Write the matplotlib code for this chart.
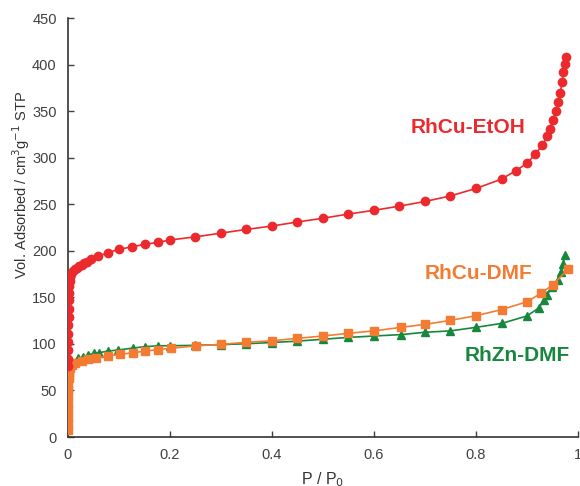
import matplotlib
matplotlib.use('Agg')
import matplotlib.pyplot as plt

plt.rcParams['font.family'] = ['Liberation Sans', 'DejaVu Sans']

# ---RhCu-EtOH---
etoh_p = [0.0002, 0.0004, 0.0006, 0.0008, 0.001, 0.0012, 0.0014, 0.0016, 0.002, 0.0025,
          0.003, 0.004, 0.005, 0.007, 0.01, 0.014, 0.018, 0.022, 0.027, 0.032, 0.037,
          0.046, 0.059, 0.078, 0.101, 0.126, 0.151, 0.176, 0.2, 0.25, 0.3, 0.35, 0.4,
          0.45, 0.5, 0.55, 0.6, 0.65, 0.7, 0.75, 0.8, 0.85, 0.878, 0.9, 0.916, 0.93,
          0.94, 0.945, 0.95, 0.957, 0.961, 0.965, 0.969, 0.971, 0.975, 0.976]
etoh_v = [76, 84, 93, 102, 111, 120, 129, 138, 147, 155,
          162, 168, 172, 175, 178, 180.5, 182, 183.5, 185, 186.5, 188,
          191, 194, 198, 201.6, 204.4, 207, 209, 211.6, 215, 219, 223, 226.6,
          231, 235, 239.5, 243.5, 248, 253, 259, 267, 277, 286, 294, 303.6, 313.6,
          323, 331, 340, 350, 360, 370, 381, 392, 401, 408]

# ---RhCu-DMF---
cudmf_p = [0.0001, 0.0002, 0.0003, 0.0004, 0.0005, 0.0006, 0.0008, 0.001, 0.0015, 0.002,
           0.003, 0.005, 0.008, 0.014, 0.027, 0.04, 0.056, 0.079, 0.102, 0.128, 0.152,
           0.177, 0.202, 0.252, 0.3, 0.35, 0.4, 0.45, 0.5, 0.55, 0.6, 0.653, 0.7, 0.75,
           0.8, 0.85, 0.9, 0.927, 0.95, 0.98]
cudmf_v = [8, 15, 22, 30, 37, 44, 51, 57, 63, 67,
           71, 74, 77, 79, 81.6, 83.4, 85, 87, 88.8, 90.5, 92.3,
           94, 95.3, 98, 99.5, 101.7, 103.4, 106, 108.5, 111.4, 114, 117.8, 121, 125.3,
           130.3, 136.8, 145.3, 154.3, 163.3, 180]

# ---RhZn-DMF---
zndmf_p = [0.0001, 0.0002, 0.0004, 0.0006, 0.001, 0.002, 0.004, 0.007, 0.02, 0.03,
           0.04, 0.052, 0.061, 0.078, 0.098, 0.128, 0.151, 0.176, 0.2, 0.25, 0.3, 0.35,
           0.4, 0.45, 0.5, 0.55, 0.6, 0.653, 0.7, 0.75, 0.8, 0.85, 0.9, 0.924, 0.933,
           0.94, 0.949, 0.96, 0.966, 0.97, 0.975]
zndmf_v = [14, 22, 35, 48, 60, 70, 76, 81, 84.5, 86,
           88, 90, 90.5, 92.3, 93.4, 95.6, 97, 98, 98, 98.5, 99.2, 100.2,
           101.5, 103, 105, 107, 108.5, 110, 112.5, 114, 117.8, 122, 130, 139, 147,
           153, 161.5, 168.6, 177, 186, 195.5]

red = '#EC2A2E'
orange = '#F47C32'
green = '#17873E'

fig = plt.figure(figsize=(5.8, 4.86), dpi=100)
ax = fig.add_axes([0.117, 0.1008, 0.8796, 0.862])

ax.plot(zndmf_p, zndmf_v, color=green, marker='^', markersize=6, lw=1.2, zorder=2)
ax.plot(cudmf_p, cudmf_v, color=orange, marker='s', markersize=5.2, lw=1.2, zorder=3)
ax.plot(etoh_p, etoh_v, color=red, marker='o', markersize=6, lw=1.2, zorder=4)

ax.text(0.784, 333, 'RhCu-EtOH', color=red, fontsize=15, fontweight='bold', ha='center', va='center')
ax.text(0.804, 176, 'RhCu-DMF', color=orange, fontsize=15, fontweight='bold', ha='center', va='center')
ax.text(0.881, 88, 'RhZn-DMF', color=green, fontsize=15, fontweight='bold', ha='center', va='center')

ax.set_xlim(0, 1)
ax.set_ylim(0, 450)
ax.set_xticks([0, 0.2, 0.4, 0.6, 0.8, 1])
ax.set_xticklabels(['0', '0.2', '0.4', '0.6', '0.8', '1'])
ax.set_yticks(range(0, 451, 50))
ax.tick_params(direction='in', length=4, width=1, labelsize=10.5, colors='#404040', pad=8)
for s in ['top', 'right']:
    ax.spines[s].set_visible(False)
for s in ['left', 'bottom']:
    ax.spines[s].set_color('#333333')
    ax.spines[s].set_linewidth(1.2)

ax.set_xlabel('P / P$_0$', fontsize=11.5, color='#333333', labelpad=6)
ax.set_ylabel('Vol. Adsorbed / cm$^3$g$^{-1}$ STP', fontsize=10.5, color='#333333')
ax.yaxis.set_label_coords(-0.07, 0.601)

fig.savefig('out.png', dpi=100)
